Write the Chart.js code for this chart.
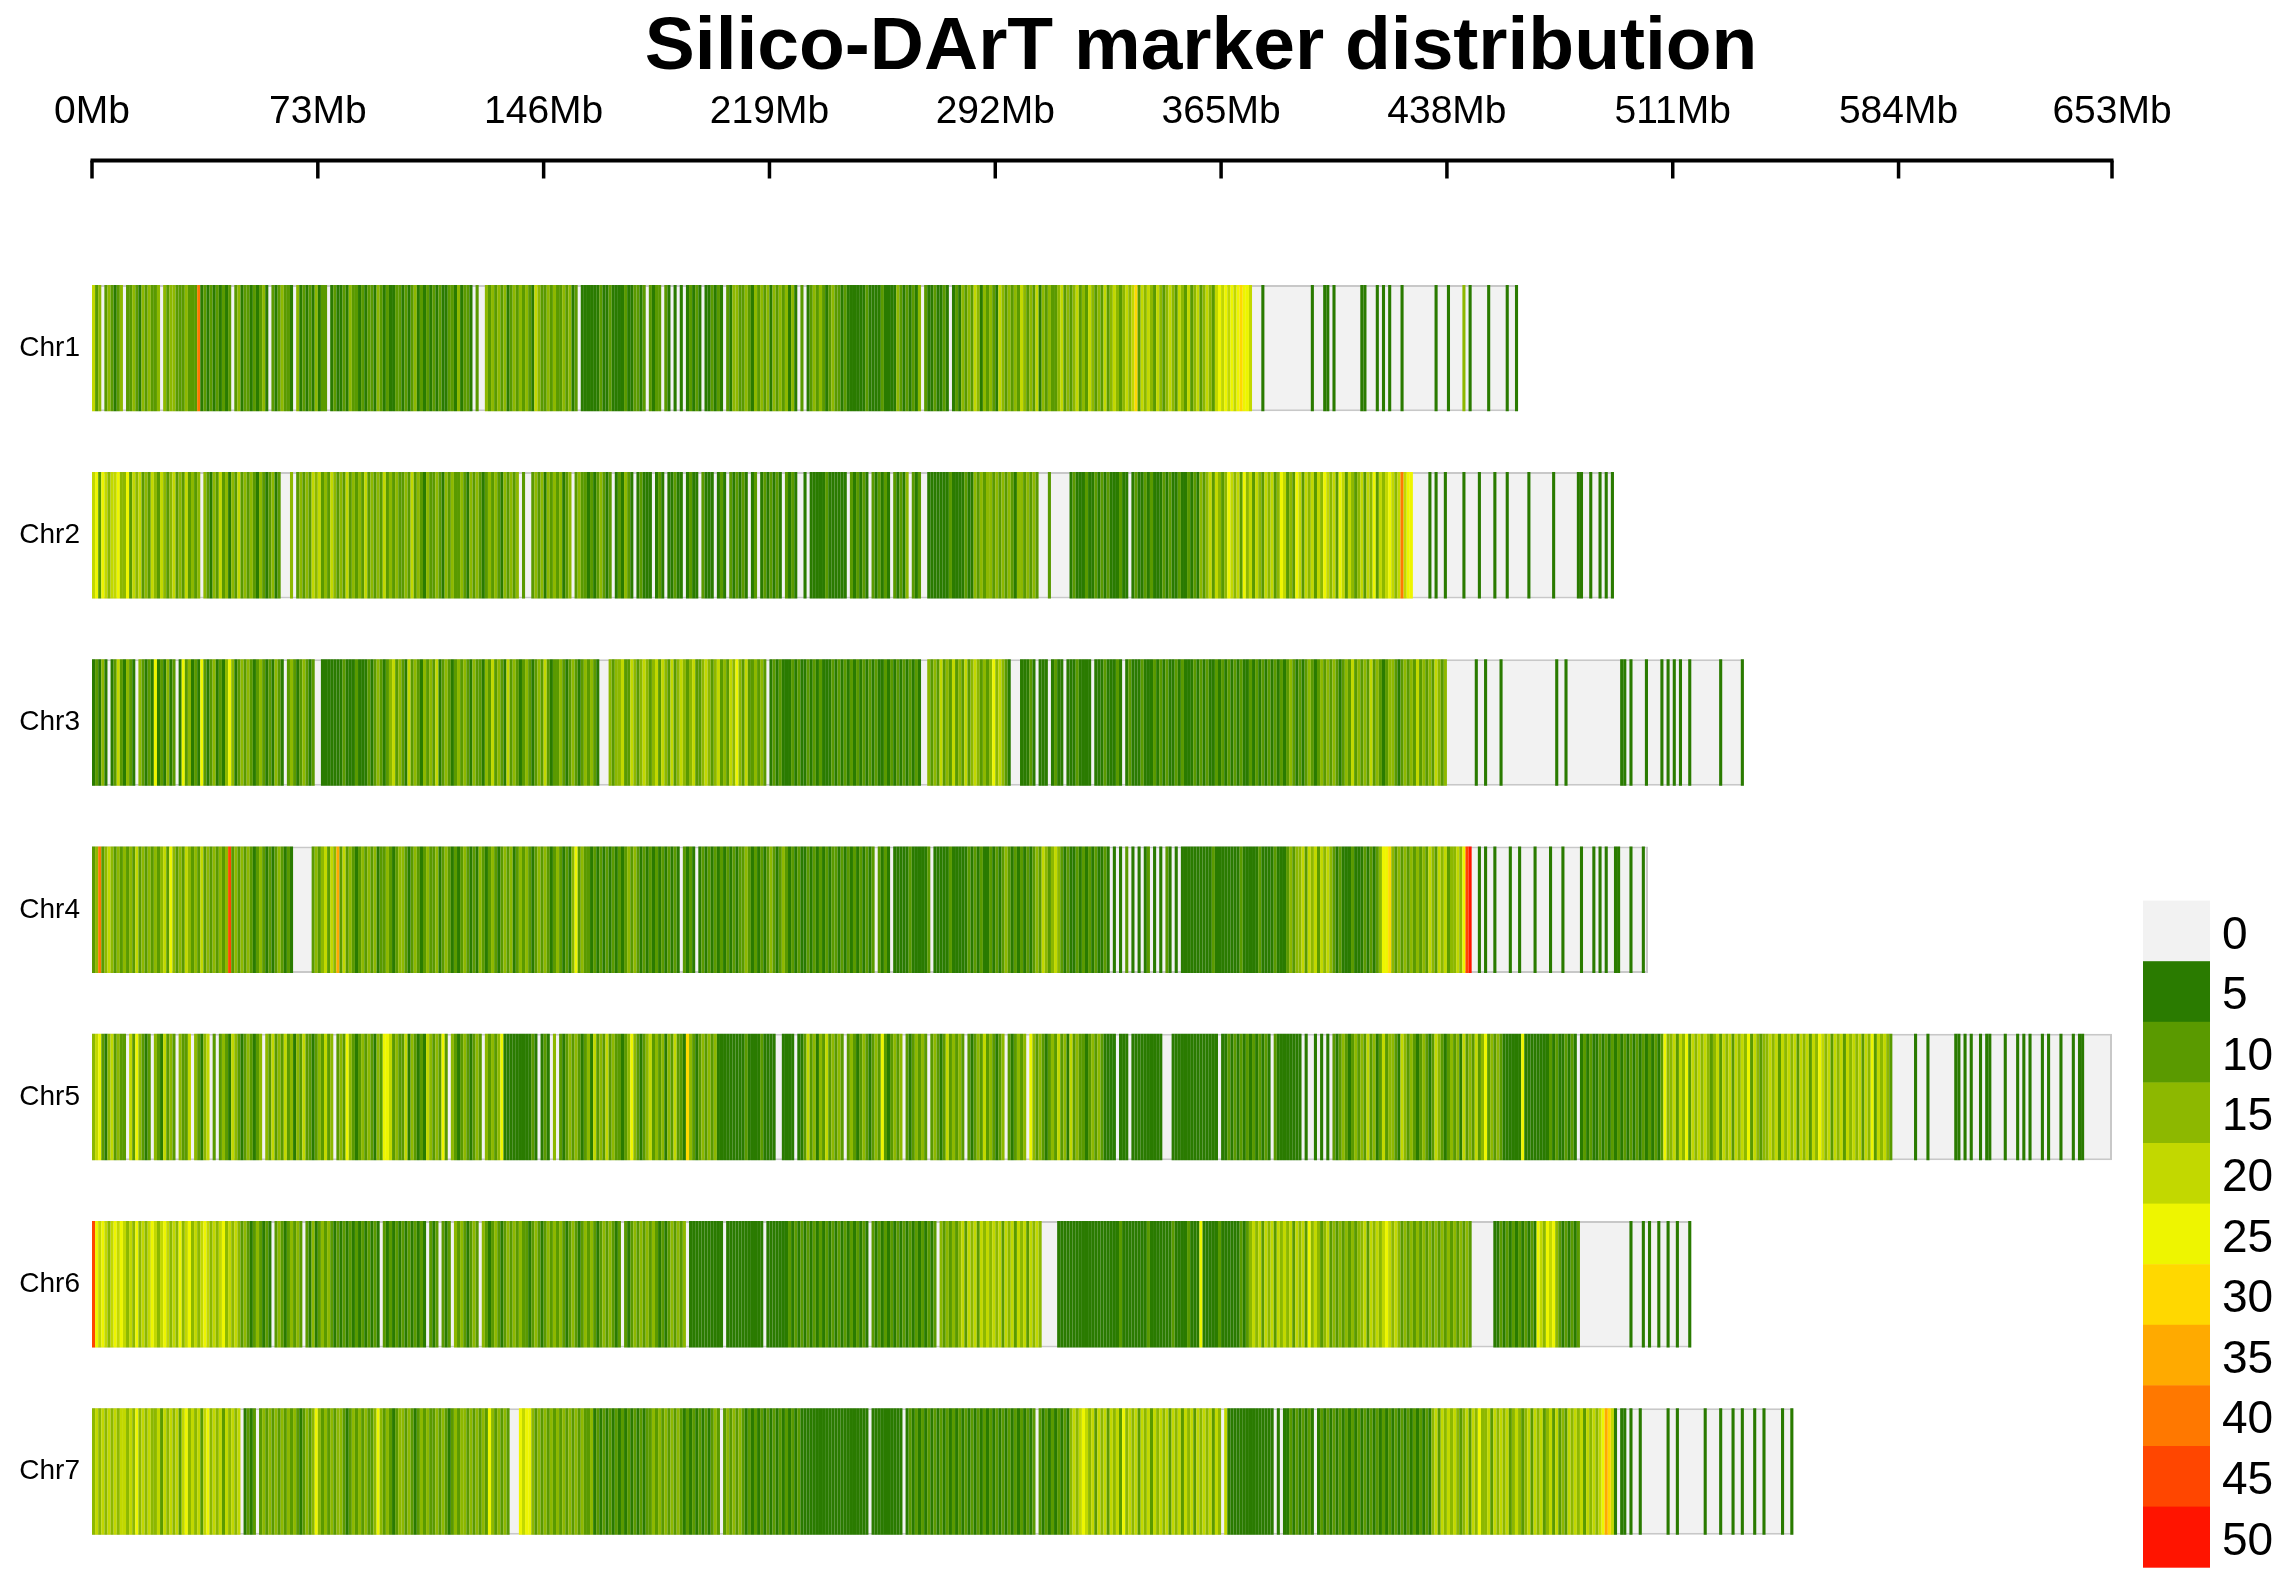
<!DOCTYPE html>
<html>
<head>
<meta charset="utf-8">
<script src="https://cdn.jsdelivr.net/npm/chart.js@4.4.1/dist/chart.umd.min.js"></script>
<style>
  html, body { margin: 0; padding: 0; background: #fff; }
  #wrap { width: 2290px; height: 1594px; }
</style>
</head>
<body>
<div id="wrap"><canvas id="densityPlot"></canvas></div>
<script>
const chrNames = ['Chr1', 'Chr2', 'Chr3', 'Chr4', 'Chr5', 'Chr6', 'Chr7'];
const chrLengths = [461, 492, 534, 503, 653, 517, 550]; // Mb
const tickValues = [0, 73, 146, 219, 292, 365, 438, 511, 584, 653];
const levelLabels = ['0', '5', '10', '15', '20', '25', '30', '35', '40', '45', '50'];
const levelColors = ['#F2F2F2', '#2A7B00', '#5A9A00', '#8DB800', '#C2D800', '#EEF500',
                     '#FFD800', '#FFAA00', '#FF7800', '#FF4600', '#FF1400'];

// marker density level per 1Mb bin (0 = none, 1 = 1-5, 2 = 6-10 ... a = 46-50)
const chr1Bins =
  '4230232123 0223213232 2303233222 3222812121 2121202312 ' +
  '2121231021 2322103121 2131220121 1213221212 2132121122 ' +
  '1212312121 2121122131 2210200323 2323123232 3214322323 ' +
  '2232312011 1111211211 1121122120 2122021010 1012121011 ' +
  '21210213322 3213232313 2323131020 1232321232 2121111112 ' +
  '1111211113 2121213021 1211210121 3232431323 2143232324 ' +
  '32324132322 3423234232 4323242343 2343462434 3243234324 ' +
  '32423423432 4545454565 5400010000 0000000000 0100011010 ' +
  '0000000110 0010101000 1000000000 0100010000 3010000010 ' +
  '00001001';
const chr2Bins =
  '4525434453 3524342324 3243234232 4232303213 2423132423 ' +
  '2321321231 2000302323 2434232432 3242323242 3232423232 ' +
  '2324232132 2321323223 2132321232 3213232302 0023231323 ' +
  '2312302322 1212321201 2132101211 1012101121 1012110211 ' +
  '1012102121 2101201212 1210212100 1011111211 1111021212 ' +
  '1021212102 1213021200 1111111211 1121132323 3232323213 ' +
  '3232320002 0000001211 1211212121 1121101211 2121112121 ' +
  '1211212132 3424323543 4253424324 3423542325 4243424354 ' +
  '3425424323 4243524345 4348455000 0010100100 0001000010 ' +
  '0001000100 0000100000 0010000000 1100100101 01';
const chr3Bins =
  '1213101242 1321032121 5121312015 2312152123 1213531232 ' +
  '3212321213 2102321232 1200111111 1211121112 1232123423 ' +
  '2142321323 2412321232 3213221324 2321423212 3212324212 ' +
  '2321232123 2321000323 3422432343 2342432423 4323422343 ' +
  '2342324353 2422323201 2121112121 1212121112 1212121212 ' +
  '1212112121 2121212100 3232423242 3242343232 3534321000 ' +
  '1112101110 1211011121 1110111211 1210121112 1112121211 ' +
  '2121112121 2112121212 1211212121 2121212321 2123212323 ' +
  '2321232423 2324232123 3212323242 3232432300 0000000100 ' +
  '1000010000 0000000000 0001001000 0000000000 0000110100 ' +
  '0010000101 0101001000 0000001000 0001';
const chr4Bins =
  '2382343232 3232423232 3234253232 4323242323 2323923232 ' +
  '3212321212 3212100000 0232342437 2423212323 2312232123 ' +
  '3212321232 2312321212 3212132123 2123231232 3212323212 ' +
  '3212135232 2121212121 2123232121 2121212121 0212101212 ' +
  '1212121212 2321212123 2123212121 1212121212 2121212121 ' +
  '2120212101 1111211111 2011111211 1112121211 2121232121 ' +
  '2121232432 3432121121 2121211210 1010201010 1201010210 ' +
  '1011111111 1121111111 1211111211 1121112323 3424342434 ' +
  '3212111211 1212123556 3232323232 3243243423 34359a0010 ' +
  '1001000010 0100001000 0100010000 0100010101 0011000100 ' +
  '010';
const chr5Bins =
  '3452134232 2042532120 3214232032 2403213402 0232143212 ' +
  '3212303242 3242313242 2123242302 3253212323 2132554232 ' +
  '2413212143 2325203212 3212320323 2351111111 1121012103 ' +
  '0212323212 3142324232 2123532123 4232313242 2163212323 ' +
  '2311111111 1211112111 1001111011 2423132423 2320232123 ' +
  '2123252123 2302123232 0232124232 3202123242 3212302123 ' +
  '2305323212 3242314232 2123232111 1011101111 1111110001 ' +
  '1111111111 1111011212 1212121212 1021111111 1010010101 ' +
  '0212321232 3242312423 3214323212 3212432123 2314232423 ' +
  '5232321111 1151111111 1212112121 0121211212 1212121212 ' +
  '1212121253 3424352434 3432342434 2434352432 3343424343 ' +
  '4243424354 3424342434 3424352434 3200000001 0001000000 ' +
  '0011010100 1011000010 0010101000 1010001000 1011000000 ' +
  '000';
const chr6Bins =
  '9545434545 4343534345 4345434353 4534345434 3453434323 ' +
  '2123212102 3212323202 1312323212 1212121212 1210212121 ' +
  '2121212102 1202120323 2123203212 3212323232 2123212323 ' +
  '2321232123 2321232321 2021232323 2321212323 2301111111 ' +
  '1111011111 1111111011 1111121212 1212121212 1212121212 ' +
  '1021212121 2121212121 2120323232 3424342434 3434243424 ' +
  '3424343000 0011111111 1111111111 1121111111 1211111112 ' +
  '1111211151 1111211111 1212343424 3424343424 3425343234 ' +
  '2323232323 3424343454 3432323232 3232323232 3232320000 ' +
  '0001121212 1212121543 5453212121 2000000000 0000000100 ' +
  '0101001001 0010001';
const chr7Bins =
  '3434343434 4343534343 3424343424 5343424534 3424343401 ' +
  '2120232323 2323232123 2353232323 3212323232 2353232123 ' +
  '3232123232 2323212323 3232323253 2323200054 5532323232 ' +
  '3232323232 2312121212 1212121212 2323232323 2121212121 ' +
  '2320232323 2121212121 2121212121 1111111111 1111111111 ' +
  '1011111111 1101212121 2121212121 2121212121 2121212121 ' +
  '2121202121 2121213434 5434243424 3425343424 3424343424 ' +
  '3424342434 3424304111 1111111111 1101011212 1212101212 ' +
  '1212121212 1212121212 1212121212 1213424343 4323424353 ' +
  '3424343423 4323424342 3424232434 3424343457 6410110100 ' +
  '1000000001 0010000000 0100001000 1001000100 1000001001';

const binLevels = [chr1Bins, chr2Bins, chr3Bins, chr4Bins, chr5Bins, chr6Bins, chr7Bins]
  .map(function(s) { return s.replace(/\s/g, ''); });

// one floating bar per non-empty bin
const binData = [];
binLevels.forEach(function(str, c) {
  for (let i = 0; i < str.length; i++) {
    const level = parseInt(str[i], 16);
    if (level > 0) {
      binData.push({ y: chrNames[c], x: [i, i + 1], level: level });
    }
  }
});

const chromData = chrNames.map(function(name, i) {
  return { y: name, x: [0, chrLengths[i]] };
});

Chart.defaults.font.family = '"Liberation Sans", Arial, Helvetica, sans-serif';
Chart.defaults.color = '#000';

const plotExtras = {
  id: 'plotExtras',
  afterLayout: function(chart) {
    // title sits a bit right of the canvas centre in the original
    const t = chart.titleBlock;
    if (!t) return;
    const shift = chart.width * 0.5245 - (t.left + t.right) / 2;
    t.left += shift;
    t.right += shift;
  },
  afterDraw: function(chart) {
    const ctx = chart.ctx;
    const xs = chart.scales.x;
    const area = chart.chartArea;

    // axis line with ticks pointing down
    const lineY = area.top - 94;
    ctx.save();
    ctx.strokeStyle = '#000';
    ctx.lineWidth = 4;
    ctx.beginPath();
    ctx.moveTo(xs.getPixelForValue(tickValues[0]) - 1.5, lineY);
    ctx.lineTo(xs.getPixelForValue(tickValues[tickValues.length - 1]) + 1.5, lineY);
    ctx.stroke();
    ctx.lineWidth = 3.5;
    tickValues.forEach(function(v) {
      const px = xs.getPixelForValue(v);
      ctx.beginPath();
      ctx.moveTo(px, lineY);
      ctx.lineTo(px, lineY + 18);
      ctx.stroke();
    });

    // colour key
    const cellW = 67;
    const cellH = 60.6;
    const keyLeft = area.right + 31;
    const keyBottom = area.bottom + 2;
    const keyTop = keyBottom - cellH * levelColors.length;
    ctx.font = '46px "Liberation Sans", Arial, sans-serif';
    ctx.textAlign = 'left';
    ctx.textBaseline = 'middle';
    levelColors.forEach(function(col, i) {
      const top = keyTop + i * cellH;
      ctx.fillStyle = col;
      ctx.fillRect(keyLeft, top, cellW, cellH + 0.5);
      ctx.fillStyle = '#000';
      ctx.fillText(levelLabels[i], keyLeft + 79, top + cellH / 2 + 5);
    });
    ctx.restore();
  }
};

const ctx = document.getElementById('densityPlot').getContext('2d');
new Chart(ctx, {
  type: 'bar',
  data: {
    labels: chrNames,
    datasets: [
      {
        label: 'Marker density',
        data: binData,
        order: 0,
        grouped: false,
        barPercentage: 0.6755,
        categoryPercentage: 1,
        borderWidth: 0,
        backgroundColor: function(c) {
          return c.raw ? levelColors[c.raw.level] : levelColors[1];
        }
      },
      {
        label: 'Chromosome',
        data: chromData,
        order: 1,
        grouped: false,
        barPercentage: 0.6755,
        categoryPercentage: 1,
        backgroundColor: levelColors[0],
        borderColor: '#C8C8C8',
        borderWidth: 2,
        borderSkipped: false
      }
    ]
  },
  options: {
    indexAxis: 'y',
    responsive: true,
    maintainAspectRatio: false,
    animation: false,
    events: [],
    layout: { padding: { top: 0, left: 0, right: 0, bottom: 23 } },
    plugins: {
      legend: { display: false },
      tooltip: { enabled: false },
      title: {
        display: true,
        text: 'Silico-DArT marker distribution',
        color: '#000',
        font: { size: 75, weight: 'bold' },
        padding: { top: 3, bottom: 0 }
      }
    },
    scales: {
      x: {
        type: 'linear',
        position: 'top',
        weight: 1,
        min: 0,
        max: 653,
        grid: { display: false, drawTicks: false },
        border: { display: false },
        afterBuildTicks: function(scale) {
          scale.ticks = tickValues.map(function(v) { return { value: v }; });
        },
        ticks: {
          autoSkip: false,
          maxRotation: 0,
          padding: 4,
          font: { size: 39 },
          callback: function(v) { return v + 'Mb'; }
        },
        afterFit: function(scale) { scale.height = 46.5; }
      },
      // empty band between the Mb labels and the first chromosome
      xGap: {
        type: 'linear',
        position: 'top',
        weight: 0,
        grid: { display: false, drawTicks: false },
        border: { display: false },
        ticks: { display: false },
        afterFit: function(scale) { scale.height = 115; }
      },
      y: {
        type: 'category',
        grid: { display: false, drawTicks: false },
        border: { display: false },
        ticks: { font: { size: 28 }, padding: 12 },
        afterFit: function(scale) { scale.width = 92; }
      },
      yRight: {
        type: 'category',
        position: 'right',
        grid: { display: false, drawTicks: false },
        border: { display: false },
        ticks: { display: false },
        afterFit: function(scale) { scale.width = 178; }
      }
    }
  },
  plugins: [plotExtras]
});
</script>
</body>
</html>
